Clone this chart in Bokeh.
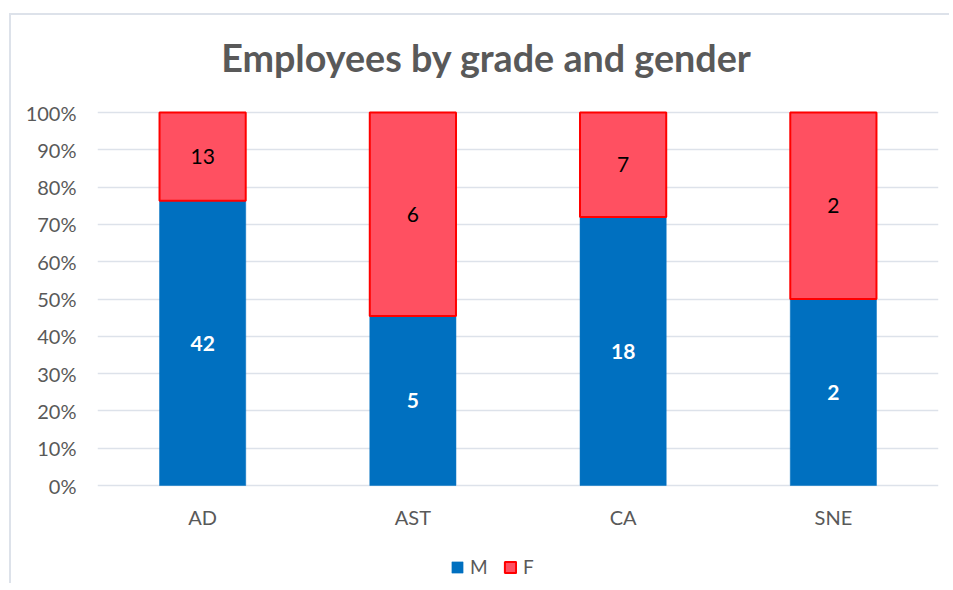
from bokeh.plotting import figure
from bokeh.models import ColumnDataSource, NumeralTickFormatter, Legend, LegendItem, FixedTicker, Label
from bokeh.core.properties import value
from bokeh.embed import file_html
from bokeh.resources import INLINE

title_text = "Employees by grade and gender"
grades = ["AD", "AST", "CA", "SNE"]
male = [42, 5, 18, 2]
female = [13, 6, 7, 2]
y_ticks = [0, 0.1, 0.2, 0.3, 0.4, 0.5, 0.6, 0.7, 0.8, 0.9, 1.0]

totals = [m + f for m, f in zip(male, female)]
m_share = [m / t for m, t in zip(male, totals)]
f_share = [f / t for f, t in zip(female, totals)]

src = ColumnDataSource(dict(
    grade=grades, M=m_share, F=f_share,
    m_mid=[s / 2 for s in m_share],
    f_mid=[s + (1 - s) / 2 for s in m_share],
    m_txt=[str(v) for v in male], f_txt=[str(v) for v in female],
))

FONT = "Lato"
GRAY = "#595959"
PX = 373.0                 # pixel height of the 0..100% band
HIGH = 1 + 97 / PX         # room above 100% for the title
LOW = -100 / PX            # room below 0% for category labels and legend
LABEL_Y = -31 / PX
TITLE_Y = 1 + 55 / PX

p = figure(x_range=grades, y_range=(LOW, HIGH), width=940, height=570, title=None,
           output_backend="svg", toolbar_location=None,
           min_border_left=86, min_border_right=13, min_border_top=0, min_border_bottom=0)
p.styles = {"margin-left": "9px", "margin-top": "13px",
            "border-left": "2px solid #dde2ea", "border-top": "2px solid #dde2ea"}
p.outline_line_color = None
p.background_fill_color = "white"
p.border_fill_color = "white"

rs = p.vbar_stack(["M", "F"], x="grade", width=0.41, source=src,
                  fill_color=["#0070C0", "#FF5061"],
                  line_color=["#0070C0", "#FF0000"],
                  line_width=[0.5, 2])

p.text(x="grade", y="m_mid", text="m_txt", source=src, text_color="white",
       text_font=value(FONT), text_font_style="bold", text_font_size="21px",
       text_align="center", text_baseline="middle")
p.text(x="grade", y="f_mid", text="f_txt", source=src, text_color="black",
       text_font=value(FONT), text_font_size="21px",
       text_align="center", text_baseline="middle")

# category labels
p.text(x=grades, y=[LABEL_Y] * len(grades), text=grades, text_color=GRAY,
       text_font=value(FONT), text_font_size="20px",
       text_align="center", text_baseline="middle")
p.xaxis.visible = False

# chart title
p.add_layout(Label(x=1.85, y=TITLE_Y, text=title_text, text_font=FONT,
                   text_font_size="37.7px", text_font_style="bold", text_color=GRAY,
                   text_align="center", text_baseline="alphabetic"))

p.yaxis.ticker = FixedTicker(ticks=y_ticks)
p.yaxis.formatter = NumeralTickFormatter(format="0%")
ax = p.yaxis[0]
ax.axis_line_color = None
ax.major_tick_line_color = None
ax.minor_tick_line_color = None
ax.major_label_text_font = FONT
ax.major_label_text_font_size = "20px"
ax.major_label_text_color = GRAY
ax.major_label_standoff = 15
p.xgrid.grid_line_color = None
p.ygrid.grid_line_color = "#dde2ea"
p.ygrid.grid_line_width = 1.6

legend = Legend(items=[LegendItem(label="M", renderers=[rs[0]]),
                       LegendItem(label="F", renderers=[rs[1]])],
                orientation="horizontal", location=(353, 7),
                glyph_width=14, glyph_height=14, label_standoff=6, spacing=13,
                label_text_font=FONT, label_text_font_size="19px", label_text_color=GRAY,
                border_line_color=None, background_fill_alpha=0, padding=2, margin=0)
p.add_layout(legend, "center")

open("out.html", "w").write(file_html(p, INLINE))
